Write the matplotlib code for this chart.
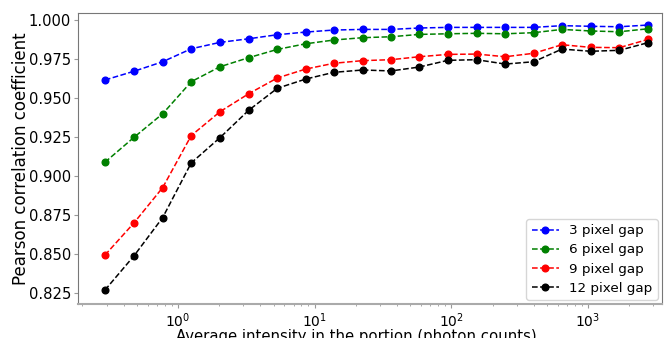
import matplotlib
matplotlib.use("Agg")
import matplotlib.pyplot as plt

x = [0.292, 0.477, 0.773, 1.25, 2.03, 3.29, 5.33, 8.6, 13.8, 22.4, 36.2, 58.2,
     94.4, 153, 248, 400, 644, 1045, 1691, 2744]

gap3 = [0.9616, 0.9672, 0.9733, 0.9816, 0.9857, 0.9880, 0.9906, 0.9923, 0.9936, 0.9940,
        0.9940, 0.9949, 0.9953, 0.9953, 0.9953, 0.9953, 0.9964, 0.9960, 0.9957, 0.9968]
gap6 = [0.9089, 0.9249, 0.9400, 0.9605, 0.9701, 0.9759, 0.9812, 0.9848, 0.9872, 0.9887,
        0.9893, 0.9908, 0.9912, 0.9915, 0.9912, 0.9919, 0.9940, 0.9930, 0.9925, 0.9944]
gap9 = [0.8494, 0.8701, 0.8927, 0.9260, 0.9413, 0.9528, 0.9629, 0.9686, 0.9723, 0.9740,
        0.9746, 0.9765, 0.9780, 0.9782, 0.9765, 0.9787, 0.9842, 0.9825, 0.9823, 0.9876]
gap12 = [0.8270, 0.8490, 0.8735, 0.9085, 0.9247, 0.9422, 0.9563, 0.9622, 0.9665, 0.9680,
         0.9674, 0.9699, 0.9742, 0.9746, 0.9718, 0.9733, 0.9814, 0.9800, 0.9806, 0.9855]

series = [("3 pixel gap", gap3, "blue"), ("6 pixel gap", gap6, "green"),
          ("9 pixel gap", gap9, "red"), ("12 pixel gap", gap12, "black")]

fig = plt.figure(figsize=(6.64, 3.38), dpi=100)
ax = fig.add_axes([0.1175, 0.1006, 0.8795, 0.8618])
for label, y, c in series:
    ax.plot(x, y, linestyle="--", marker="o", color=c, markersize=4.8, linewidth=1.1, label=label)

ax.set_xscale("log")
ax.set_xlim(0.1856, 3474)
ax.set_ylim(0.8181, 1.0047)
ax.set_yticks([0.825, 0.850, 0.875, 0.900, 0.925, 0.950, 0.975, 1.000])
ax.tick_params(axis="y", which="major", labelsize=10.6, length=3, pad=2, color="#999999")
ax.tick_params(axis="x", which="major", labelsize=10, length=3, pad=2, color="#999999")
ax.tick_params(axis="both", which="minor", length=1.5, color="#999999")
for s in ax.spines.values():
    s.set_color("#777777")
ax.spines["bottom"].set_color("#aaaaaa")
ax.spines["bottom"].set_linewidth(1.5)
ax.set_xlabel("Average intensity in the portion (photon counts)", fontsize=10.7)
ax.set_ylabel("Pearson correlation coefficient", fontsize=12)
ax.xaxis.set_label_coords(0.476, -0.0858)
ax.yaxis.set_label_coords(-0.082, 0.5)
ax.legend(loc="lower right", fontsize=9.7, borderaxespad=0.3, handlelength=2.0,
          labelspacing=0.45)
fig.savefig("out.png", dpi=100)
